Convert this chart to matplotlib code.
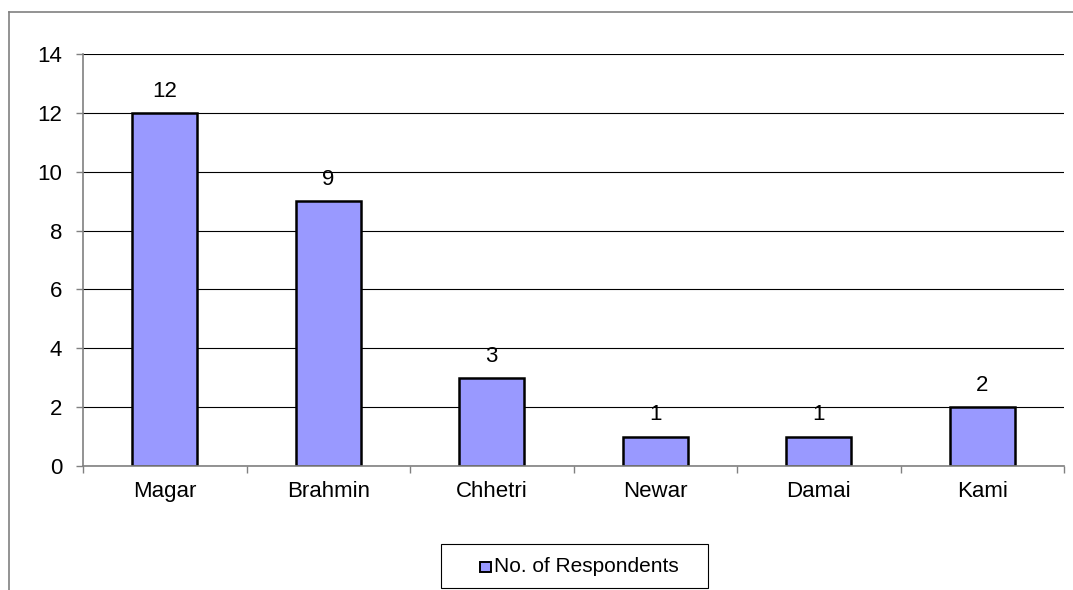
import matplotlib.pyplot as plt
from matplotlib.patches import Rectangle
from matplotlib.lines import Line2D
import numpy as np

plt.rcParams['font.family'] = ['Liberation Sans', 'DejaVu Sans']

castes = ["Magar", "Brahmin", "Chhetri", "Newar", "Damai", "Kami"]
respondents = [12, 9, 3, 1, 1, 2]
series_name = "No. of Respondents"

W, H = 1073, 590
fig = plt.figure(figsize=(W / 100, H / 100), dpi=100)
ax = fig.add_axes([83 / W, 1 - 466 / H, (1064 - 83) / W, (466 - 54) / H])

x = np.arange(len(castes))
bars = ax.bar(x, respondents, width=0.4, color="#9999FF", edgecolor="black",
              linewidth=1.8, zorder=3)

for xi, v in zip(x, respondents):
    ax.annotate(str(v), (xi, v), xytext=(0, 8), textcoords="offset points",
                ha="center", va="bottom", fontsize=16)

ax.set_xlim(-0.5, len(castes) - 0.5)
ax.set_ylim(0, 14)
ax.set_yticks(range(0, 15, 2))
ax.yaxis.grid(True, color="black", linewidth=0.8, zorder=0)
ax.set_axisbelow(True)

ax.set_xticks(x)
ax.set_xticklabels(castes)
ax.set_xticks(np.arange(-0.5, len(castes)), minor=True)
ax.tick_params(axis="x", which="major", length=0, pad=11, labelsize=16)
ax.tick_params(axis="x", which="minor", length=5, width=1, color="#808080", direction="out")
ax.tick_params(axis="y", length=5, width=1, color="#808080", pad=10, labelsize=16)

for side in ("top", "right"):
    ax.spines[side].set_visible(False)
for side in ("left", "bottom"):
    ax.spines[side].set_color("#808080")
    ax.spines[side].set_linewidth(1.2)
    ax.spines[side].set_zorder(4)

# outer chart frame, cut off on the right and bottom
fig.add_artist(Line2D([9 / W, 9 / W], [0, 1 - 12 / H], transform=fig.transFigure,
                      color="#808080", linewidth=1.2))
fig.add_artist(Line2D([9 / W, 1], [1 - 12 / H, 1 - 12 / H], transform=fig.transFigure,
                      color="#808080", linewidth=1.2))

# legend box
fig.add_artist(Rectangle((441 / W, 1 - 588 / H), (708 - 441) / W, (588 - 544) / H,
                         transform=fig.transFigure, facecolor="white",
                         edgecolor="black", linewidth=0.8))
fig.add_artist(Rectangle((480 / W, 1 - 572 / H), 11 / W, 10 / H,
                         transform=fig.transFigure, facecolor="#9999FF",
                         edgecolor="black", linewidth=1.4))
fig.text(494 / W, 1 - 567 / H, series_name, fontsize=15, va="center", ha="left")

fig.savefig("out.png", dpi=100)
